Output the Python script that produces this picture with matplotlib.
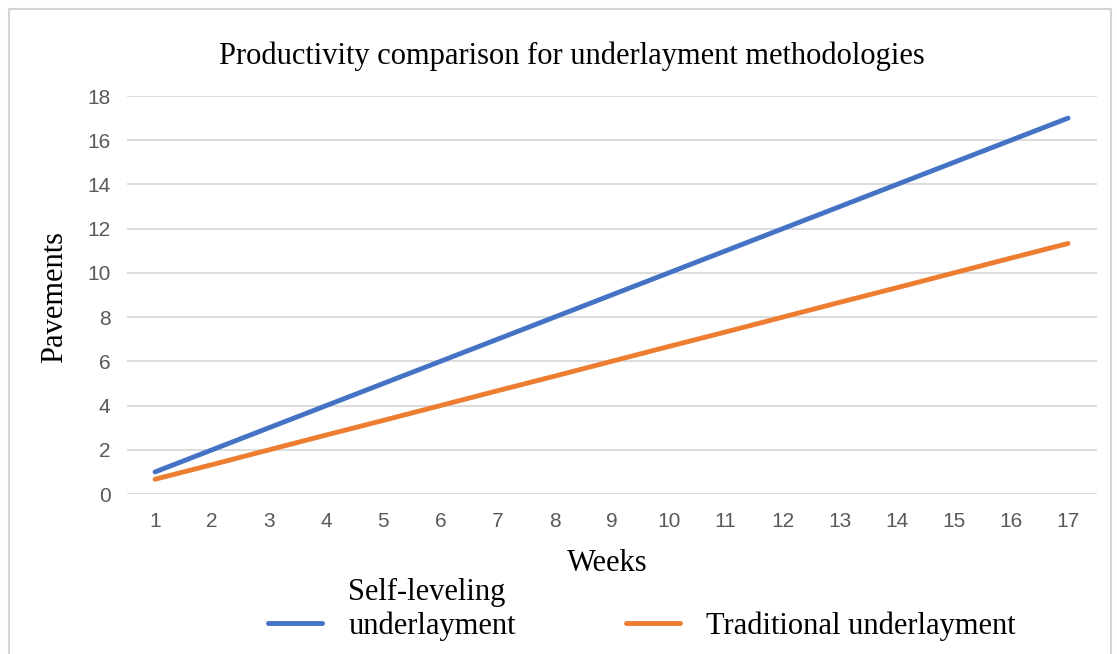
import matplotlib
matplotlib.use("Agg")
import matplotlib.pyplot as plt
from matplotlib.patches import Rectangle

# Data
weeks = list(range(1, 18))
self_leveling = [1, 2, 3, 4, 5, 6, 7, 8, 9, 10, 11, 12, 13, 14, 15, 16, 17]
traditional = [0.67, 1.33, 2.0, 2.67, 3.33, 4.0, 4.67, 5.33, 6.0, 6.67, 7.33,
               8.0, 8.67, 9.33, 10.0, 10.67, 11.33]
y_ticks = [0, 2, 4, 6, 8, 10, 12, 14, 16, 18]

BLUE = "#4472C4"
ORANGE = "#ED7D31"
SERIF = "Liberation Serif"
SANS = "Liberation Sans"

W, H = 1117, 654
fig = plt.figure(figsize=(W / 100, H / 100), dpi=100)
ax = fig.add_axes([0.1133, 0.2446, 0.8684, 0.6086])

# legend label for the blue series is split: top line added as text below
ax.plot(weeks, self_leveling, color=BLUE, lw=3.5, solid_capstyle="round",
        label="underlayment")
ax.plot(weeks, traditional, color=ORANGE, lw=3.5, solid_capstyle="round",
        label="Traditional underlayment")

ax.set_xlim(0.5, 17.5)
ax.set_ylim(0, 18)
ax.set_xticks(weeks)
ax.set_yticks(y_ticks)
ax.grid(axis="y", color="#d9d9d9", lw=1.3)
ax.set_axisbelow(True)
for s in ax.spines.values():
    s.set_visible(False)
ax.tick_params(length=0, labelsize=15, labelcolor="#595959")
ax.tick_params(axis="x", pad=13)
ax.tick_params(axis="y", pad=11.5)
for lab in ax.get_xticklabels() + ax.get_yticklabels():
    lab.set_fontfamily(SANS)

fig.text(0.512, 0.914, "Productivity comparison for underlayment methodologies",
         ha="center", va="center", fontsize=22, family=SERIF)
fig.text(0.049, 0.546, "Pavements", rotation=90, ha="center", va="center",
         fontsize=22, family=SERIF)
fig.text(0.5434, 0.139, "Weeks", ha="center", va="center", fontsize=22, family=SERIF)

leg = fig.legend(loc="center left", bbox_to_anchor=(268 / W, 1 - 626 / H), ncol=2,
                 frameon=False, prop={"family": SERIF, "size": 22},
                 handlelength=1.77, handletextpad=0.85, columnspacing=3.6,
                 borderpad=0, borderaxespad=0)

# put "Self-leveling" on the line above the first legend label
fig.canvas.draw()
bb = leg.get_texts()[0].get_window_extent()
fig.text(bb.x0 / W, (bb.y0 + bb.y1) / 2 / H + 34 / H, "Self-leveling",
         ha="left", va="center", fontsize=22, family=SERIF)

fig.patches.append(Rectangle((0.008, -0.01), 0.987, 0.996, transform=fig.transFigure,
                             fill=False, edgecolor="#d4d4d4", lw=1.5))

fig.savefig("out.png", dpi=100)
